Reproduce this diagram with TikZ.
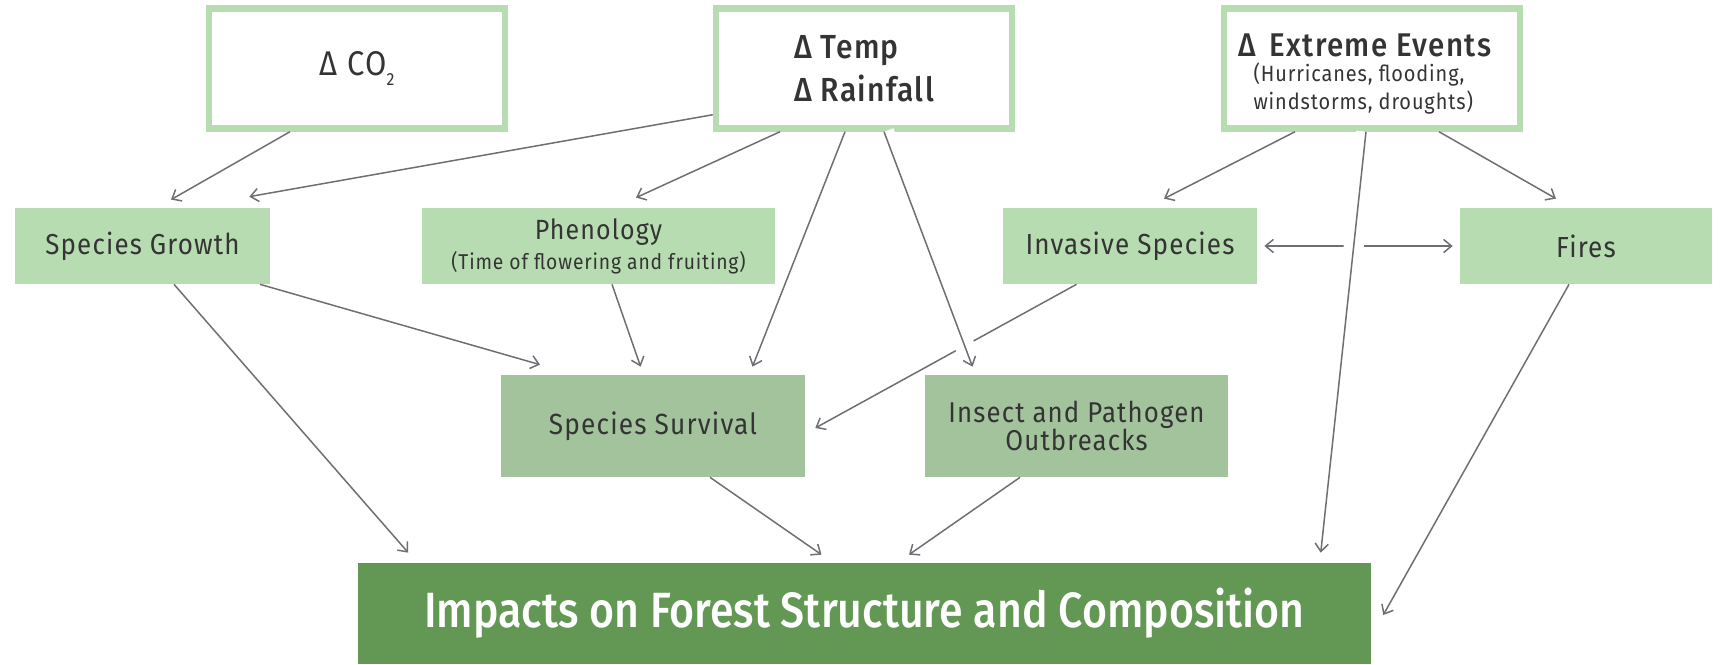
\documentclass[tikz,border=0pt]{standalone}
\usepackage{fontspec}
\setmainfont[FakeStretch=0.9,LetterSpace=4,BoldFont={Fira Sans Medium}]{Fira Sans}
\newfontfamily\impactfont[FakeStretch=0.865]{Fira Sans Medium}
\usetikzlibrary{arrows.meta,calc}

\definecolor{boxgreen}{RGB}{184,220,177}
\definecolor{survgreen}{RGB}{163,195,157}
\definecolor{darkgreen}{RGB}{99,151,84}
\definecolor{arrowgray}{RGB}{110,110,116}
\definecolor{textgray}{RGB}{52,52,52}

\begin{document}
\begin{tikzpicture}[x=0.02cm,y=-0.02cm]
  \tikzstyle{topbox}=[rectangle,draw=boxgreen,line width=0.13cm,fill=white,minimum width=5.92cm,minimum height=2.4cm,inner sep=0pt,text=textgray]
  \tikzstyle{midbox}=[rectangle,fill=boxgreen,minimum height=1.52cm,inner sep=0pt,text=textgray,font=\fontsize{16.5}{20}\selectfont]
  \tikzstyle{lowbox}=[rectangle,fill=survgreen,minimum width=6.08cm,minimum height=2.04cm,inner sep=0pt,text=textgray]
  \tikzstyle{arr}=[draw=arrowgray,line width=0.85pt,-{Straight Barb[length=4.5pt,width=7.5pt]}]
  \tikzstyle{gap}=[preaction={draw=white,line width=0.4cm,-}]
  \useasboundingbox (0,0) rectangle (1729,665);
  % drivers
  \node [topbox] (co2) at (357,68.5) {\fontsize{19.5}{24}\selectfont Δ CO\raisebox{-5.5pt}{\fontsize{10}{10}\selectfont 2}};
  \node [topbox,align=left,font=\fontsize{19}{24.2}\selectfont\bfseries] (temp) at (864,68.5) {Δ Temp\\Δ Rainfall};
  \node [topbox,align=left,font=\fontsize{12.6}{16}\selectfont] (extreme) at (1372,68.5)
    {{\fontsize{18.7}{20}\selectfont\bfseries\rule{0pt}{19pt}Δ\hspace{0.42em}Extreme Events\makebox[8pt]{}}\\[-2pt]
     \hspace*{8.5pt}(Hurricanes, flooding,\\
     \hspace*{8.5pt}windstorms, droughts)};
  % effects
  \node [midbox,minimum width=5.1cm,font=\fontsize{16.4}{20}\selectfont] (growth) at (142.5,246) {Species Growth};
  \node [midbox,minimum width=7.06cm,align=center,font=\fontsize{15.8}{17}\selectfont] (phen) at (598.5,246)
    {Phenology\\{\fontsize{12.2}{14}\selectfont (Time of flowering and fruiting)}};
  \node [midbox,minimum width=5.08cm] (invasive) at (1130,246) {Invasive Species};
  \node [midbox,minimum width=5.04cm] (fires) at (1586,246) {Fires};
  \node [lowbox,font=\fontsize{16.6}{20}\selectfont] (survival) at (653,426) {Species Survival};
  \node [lowbox,align=center,font=\fontsize{16.3}{16.4}\selectfont] (insect) at (1076.5,426) {Insect and Pathogen\\Outbreacks};
  \node [rectangle,fill=darkgreen,minimum width=20.26cm,minimum height=2.02cm,inner sep=0pt,text=white,font=\fontsize{28.2}{32}\impactfont] (impacts) at (864.5,613.5) {Impacts on Forest Structure and Composition};
  % crossed connectors first
  \draw [arr] ($(invasive.south)+(-53.5,0)$) -- ($(survival.east)+(10,2)$);
  \draw [draw=arrowgray,line width=0.85pt,{Straight Barb[length=4.5pt,width=7.5pt]}-{Straight Barb[length=4.5pt,width=7.5pt]},shorten <=4pt,shorten >=4pt] (invasive.east) -- (fires.west);
  % from the drivers
  \draw [arr] ($(co2.south)+(-67,0)$) -- ($(growth.north)+(28.5,-8)$);
  \draw [arr] ($(temp.south west)+(0,-17)$) -- ($(growth.north east)+(-21,-11)$);
  \draw [arr] ($(temp.south)+(-84,0)$) -- ($(phen.north)+(37.5,-10)$);
  \draw [arr] ($(temp.south)+(-19,0)$) -- ($(survival.north)+(99.5,-8)$);
  \draw [arr,gap] ($(temp.south)+(20,0)$) -- ($(insect.north)+(-104,-8)$);
  \draw [arr] ($(extreme.south)+(-77,0)$) -- ($(invasive.north)+(34,-9)$);
  \draw [arr] ($(extreme.south)+(67,0)$) -- ($(fires.north)+(-30,-9)$);
  \draw [arr,gap] ($(extreme.south)+(-6,0)$) -- ($(impacts.north east)+(-50.5,-10)$);
  % towards survival and impacts
  \draw [arr] ($(growth.south)+(117.5,0)$) -- ($(survival.north)+(-113,-10)$);
  \draw [arr] ($(growth.south)+(31.5,0)$) -- ($(impacts.north west)+(50.5,-10)$);
  \draw [arr] ($(phen.south)+(13.5,0)$) -- ($(survival.north)+(-12.4,-8)$);
  \draw [arr] ($(survival.south)+(57,0)$) -- ($(impacts.north)+(-43,-8)$);
  \draw [arr] ($(insect.south)+(-56.5,0)$) -- ($(impacts.north)+(44.5,-8)$);
  \draw [arr] ($(fires.south)+(-17,0)$) -- ($(impacts.east)+(12,1.5)$);
\end{tikzpicture}
\end{document}
